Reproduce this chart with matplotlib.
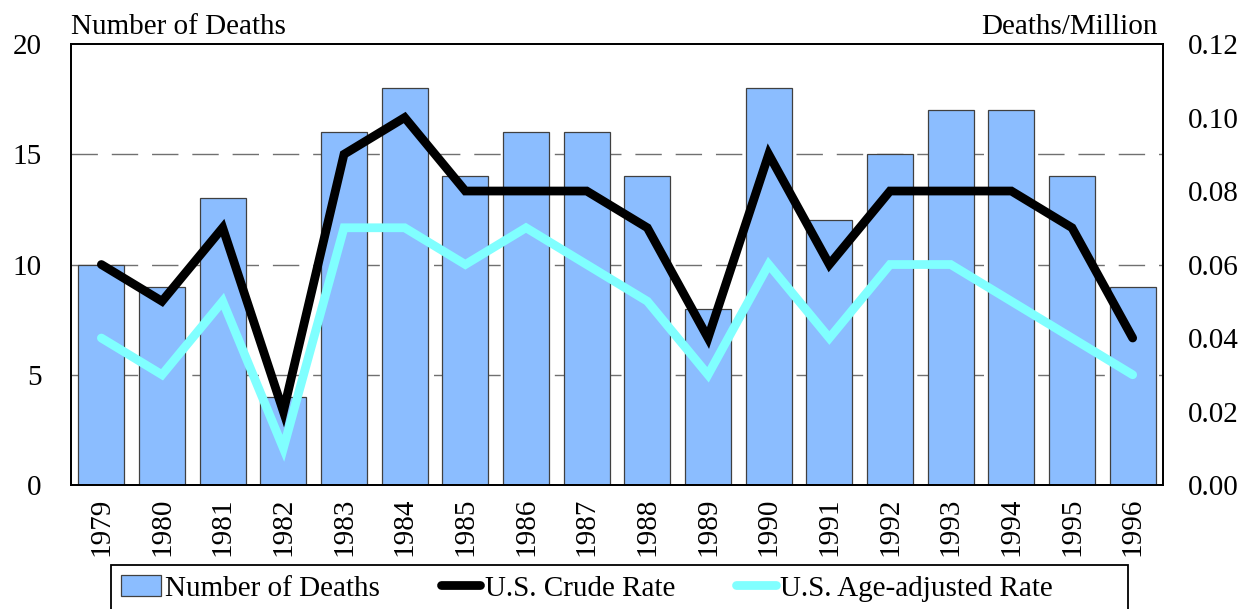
import matplotlib.pyplot as plt
from matplotlib.patches import Rectangle
import numpy as np

years = ["1979", "1980", "1981", "1982", "1983", "1984", "1985", "1986", "1987",
         "1988", "1989", "1990", "1991", "1992", "1993", "1994", "1995", "1996"]
deaths = [10, 9, 13, 4, 16, 18, 14, 16, 16, 14, 8, 18, 12, 15, 17, 17, 14, 9]
crude = [0.06, 0.05, 0.07, 0.02, 0.09, 0.10, 0.08, 0.08, 0.08, 0.07, 0.04, 0.09,
         0.06, 0.08, 0.08, 0.08, 0.07, 0.04]
adjusted = [0.04, 0.03, 0.05, 0.01, 0.07, 0.07, 0.06, 0.07, 0.06, 0.05, 0.03, 0.06,
            0.04, 0.06, 0.06, 0.05, 0.04, 0.03]

plt.rcParams["font.family"] = ["Liberation Serif", "DejaVu Serif"]
plt.rcParams["font.size"] = 21

W, H = 1246, 609
fig = plt.figure(figsize=(W / 100, H / 100), dpi=100)
ax = fig.add_axes([0.057, 0.2036, 0.8764, 0.7241])
x = np.arange(len(years))

bars = ax.bar(x, deaths, width=0.76, color="#8bbdff", edgecolor="#404040",
              linewidth=0.9, zorder=2, label="Number of Deaths")
ax.set_xlim(-0.5, len(years) - 0.5)
ax.set_ylim(0, 20)
ax.set_yticks([0, 5, 10, 15, 20])
for v in [5, 10, 15]:
    ax.axhline(v, color="#707070", lw=1.0, dashes=(19, 10), zorder=1)
ax.set_xticks(x)
ax.set_xticklabels(years, rotation=90)
ax.tick_params(axis="x", length=0, pad=9)
ax.tick_params(axis="y", length=0, pad=21)

ax2 = ax.twinx()
l1, = ax2.plot(x, crude, color="black", lw=6.3, solid_capstyle="round",
               solid_joinstyle="miter", zorder=3, label="U.S. Crude Rate")
l2, = ax2.plot(x, adjusted, color="#80ffff", lw=6.3, solid_capstyle="round",
               solid_joinstyle="miter", zorder=3, label="U.S. Age-adjusted Rate")
ax2.set_ylim(0, 0.12)
ax2.set_yticks([0, 0.02, 0.04, 0.06, 0.08, 0.10, 0.12])
ax2.set_yticklabels(["0.00", "0.02", "0.04", "0.06", "0.08", "0.10", "0.12"])
ax2.tick_params(axis="y", length=0, pad=18)
ax.set_zorder(1)
ax2.set_zorder(2)
ax2.patch.set_visible(False)

for a in (ax, ax2):
    for s in a.spines.values():
        s.set_linewidth(1.3)

ax.text(0.0, 1.01, "Number of Deaths", transform=ax.transAxes, ha="left", va="bottom")
ax2.text(0.995, 1.01, "Deaths/Million", transform=ax2.transAxes, ha="right", va="bottom")

# legend without its own frame; the box runs off the bottom of the figure
leg = fig.legend([bars, l1, l2],
                 ["Number of Deaths", "U.S. Crude Rate", "U.S. Age-adjusted Rate"],
                 loc="upper left", bbox_to_anchor=(111 / W, 1 - 565 / H),
                 ncol=3, frameon=False,
                 handlelength=1.35, handletextpad=0.15, columnspacing=2.1,
                 borderpad=0.35, borderaxespad=0)
fig.patches.append(Rectangle((111 / W, -0.05), (1128 - 111) / W, 0.05 + 1 - 565 / H,
                             transform=fig.transFigure, fill=False,
                             edgecolor="black", linewidth=1.3))

fig.savefig("out.png", dpi=100)
